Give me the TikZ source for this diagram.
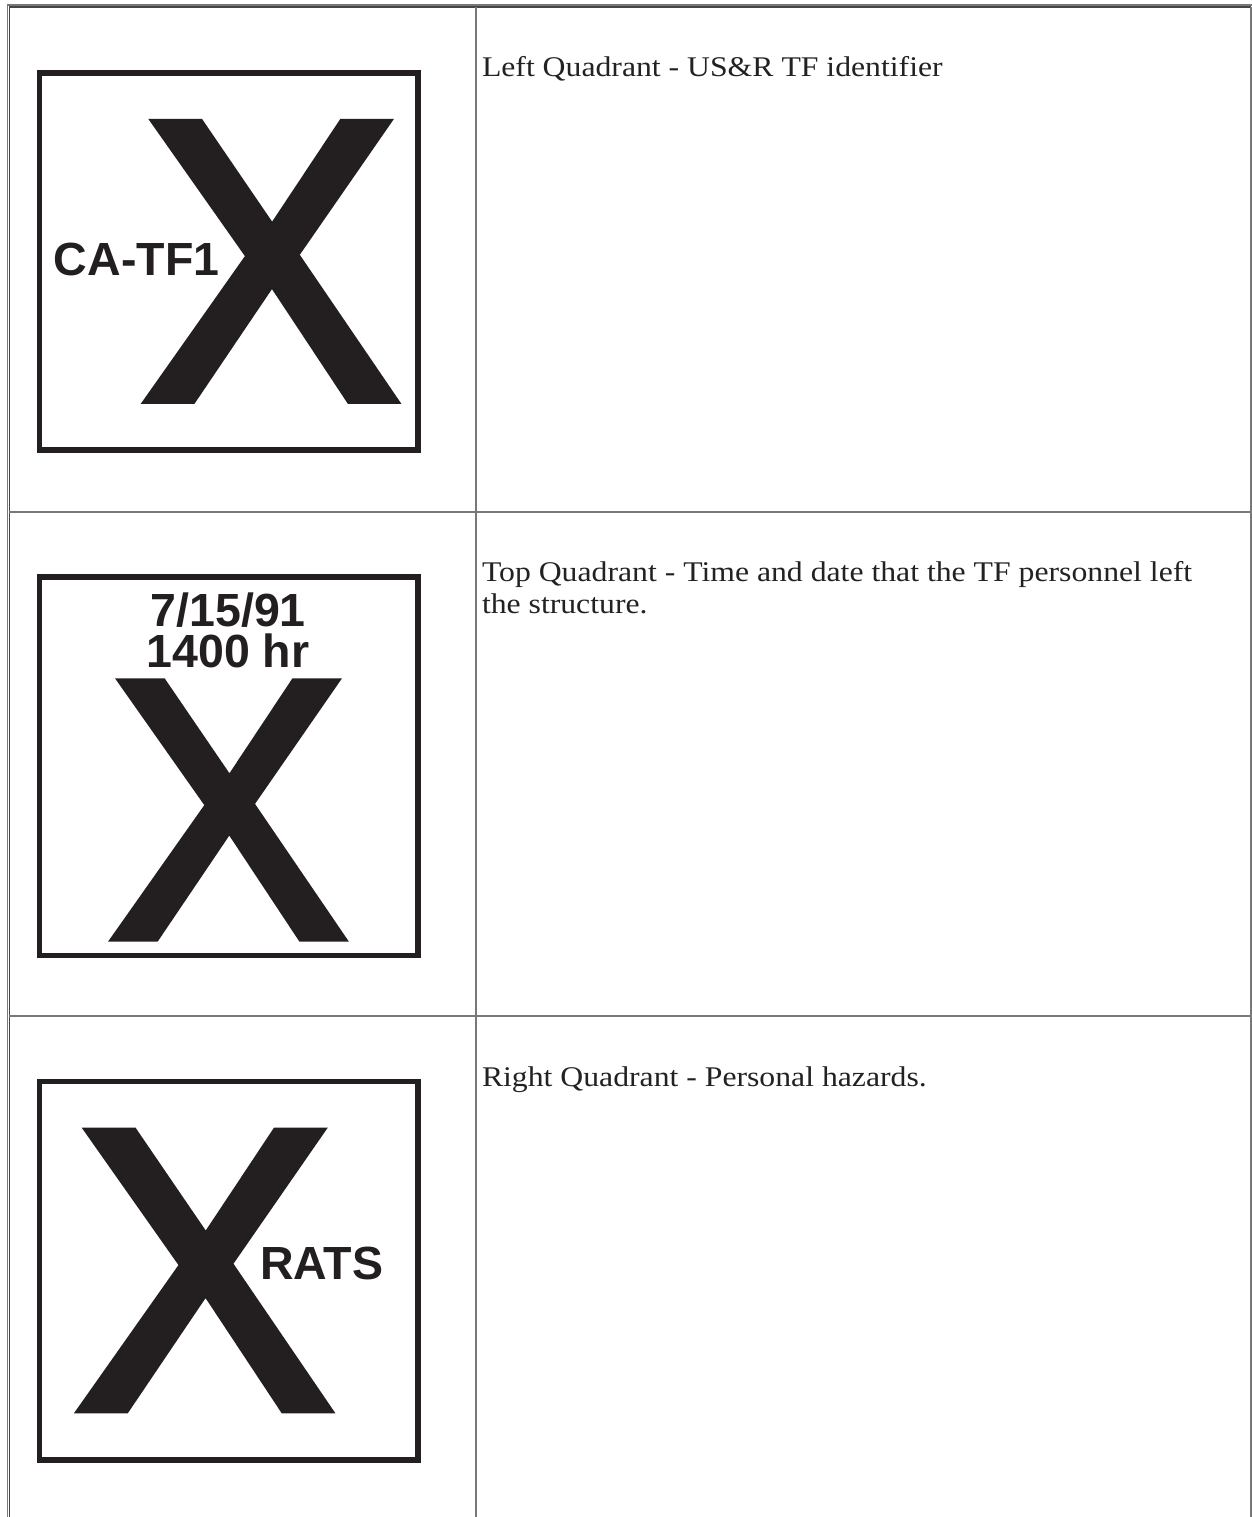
\documentclass[tikz,border=0pt]{standalone}
\usepackage{fontspec}
\setmainfont{Liberation Serif}
\newfontfamily\signfont{Liberation Sans}
\newfontfamily\xfont[FakeBold=3]{Liberation Sans}
\newfontfamily\descfont[FakeStretch=1.113]{Liberation Serif}
\definecolor{ink}{RGB}{35,31,32}
\definecolor{txt}{RGB}{34,34,34}
\definecolor{rulea}{RGB}{120,120,120}
\definecolor{ruleb}{RGB}{70,70,70}
\tikzset{
  signframe/.style={draw=ink, line width=2.8pt},
  bigx/.style={inner sep=0pt, outer sep=0pt, text=ink, anchor=base},
  signlabel/.style={inner sep=0pt, outer sep=0pt, text=ink, font=\signfont\bfseries\fontsize{23.25}{23.25}\selectfont},
  desc/.style={inner sep=0pt, outer sep=0pt, text=txt, anchor=base west, font=\descfont\fontsize{14.25}{15.8}\selectfont},
  tblouter/.style={draw=rulea, line width=0.55pt},
  tblinner/.style={draw=ruleb, line width=0.55pt},
}
\newcommand{\bigX}[1]{\scalebox{0.963}[1]{\xfont\fontsize{#1}{#1}\selectfont X}}
\begin{document}
\begin{tikzpicture}[x=0.5pt, y=-0.5pt]
\useasboundingbox (0,0) rectangle (1252,1517);
\fill[white] (0,0) rectangle (1252,1517);
% table rules
\coordinate (oTL) at (7.3,5);
\coordinate (oBL) at (7.3,1517);
\coordinate (oTR) at (1252,5);
\coordinate (iTL) at (9.3,7);
\coordinate (iBL) at (9.3,1517);
\coordinate (iTR) at (1251,7);
\coordinate (iBR) at (1251,1517);
\draw[tblouter] (oBL) -- (oTL) -- (oTR);
\draw[tblinner] (iBL) -- (iTL) -- (iTR);
\draw[tblouter] (iTR) -- (iBR);
\coordinate (cT) at (476,7);
\coordinate (cB) at (476,1517);
\draw[tblouter] (cT) -- (cB);
\coordinate (r1L) at (9.3,512);
\coordinate (r1R) at (1251,512);
\coordinate (r2L) at (9.3,1016);
\coordinate (r2R) at (1251,1016);
\draw[tblouter] (r1L) -- (r1R);
\draw[tblouter] (r2L) -- (r2R);
% sign 1
\draw[signframe] (39.5,72.8) rectangle (417.9,450.2);
\node[bigx] (x1) at (270.9,398) {\bigX{198.5}};
\node[signlabel, anchor=base west] (l1) at (54,275) {CA-TF1};
% sign 2
\draw[signframe] (39.5,576.8) rectangle (417.9,955.5);
\node[bigx] (x2) at (228.3,936.2) {\bigX{183.4}};
\node[signlabel, anchor=base] (l2a) at (228.3,626) {7/15/91};
\node[signlabel, anchor=base] (l2b) at (228.1,667.7) {1400 hr};
% sign 3
\draw[signframe] (39.5,1081.5) rectangle (417.9,1459.9);
\node[bigx] (x3) at (204.5,1407.3) {\bigX{199}};
\node[signlabel, anchor=base west] (l3) at (260,1279) {RATS};
% descriptions
\node[desc] (d1) at (482,76) {Left Quadrant - US\&R TF identifier};
\node[desc] (d2a) at (482,581) {Top Quadrant - Time and date that the TF personnel left};
\node[desc] (d2b) at (482,613) {the structure.};
\node[desc] (d3) at (482,1086) {Right Quadrant - Personal hazards.};
\end{tikzpicture}
\end{document}
